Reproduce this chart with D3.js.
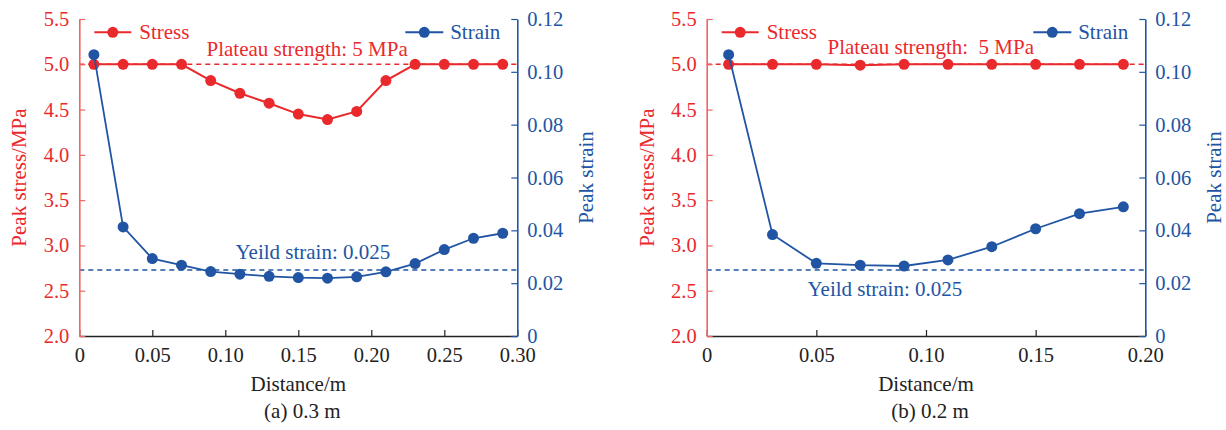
<!DOCTYPE html>
<html>
<head>
<meta charset="utf-8">
<script src="https://cdn.jsdelivr.net/npm/d3@7"></script>
<style>
  html, body { margin: 0; padding: 0; background: #fff; }
  svg { display: block; }
  text { font-family: "Liberation Serif", "Times New Roman", serif; }
</style>
</head>
<body>
<svg id="chart" width="1226" height="430"></svg>
<script>
// Peak stress / peak strain along the distance, two specimen lengths
const distA   = [0.01, 0.03, 0.05, 0.07, 0.09, 0.11, 0.13, 0.15, 0.17, 0.19, 0.21, 0.23, 0.25, 0.27, 0.29];
const stressA = [5.0, 5.0, 5.0, 5.0, 4.82, 4.68, 4.57, 4.45, 4.39, 4.48, 4.82, 5.0, 5.0, 5.0, 5.0];
const strainA = [0.1065, 0.0413, 0.0293, 0.0268, 0.0244, 0.0234, 0.0226, 0.0221, 0.0219, 0.0224, 0.0243, 0.0274, 0.0327, 0.0370, 0.0389];

const distB   = [0.01, 0.03, 0.05, 0.07, 0.09, 0.11, 0.13, 0.15, 0.17, 0.19];
const stressB = [5.0, 5.0, 5.0, 4.99, 5.0, 5.0, 5.0, 5.0, 5.0, 5.0];
const strainB = [0.1065, 0.0384, 0.0275, 0.0268, 0.0265, 0.0288, 0.0338, 0.0406, 0.0463, 0.0489];

const xTicksA = [0, 0.05, 0.10, 0.15, 0.20, 0.25, 0.30];
const xTicksB = [0, 0.05, 0.10, 0.15, 0.20];
const stressTicks = [2.0, 2.5, 3.0, 3.5, 4.0, 4.5, 5.0, 5.5];
const strainTicks = [0, 0.02, 0.04, 0.06, 0.08, 0.10, 0.12];

const plateauStrength = 5;
const yieldStrain = 0.025;

const RED = "#ea292d", RED_AXIS = "#f26464", BLUE = "#2155a4";
const SERIF = "Liberation Serif, Times New Roman, serif";
const FONT = 21, TICK_FONT = 20.5;

const svg = d3.select("#chart");

function label(sel, size, fill) {
  return sel.attr("font-family", SERIF).attr("font-size", size).attr("fill", fill)
    .style("font-family", SERIF).style("font-size", size + "px");
}

function panel(opt) {
  const { left, right, top, bottom } = opt;
  const g = svg.append("g");
  const x = d3.scaleLinear().domain([0, opt.xMax]).range([left, right]);
  const yS = d3.scaleLinear().domain([2.0, 5.5]).range([bottom, top]);
  const yE = d3.scaleLinear().domain([0, 0.12]).range([bottom, top]);

  // reference lines
  g.append("line")
    .attr("x1", left).attr("x2", right)
    .attr("y1", yS(plateauStrength)).attr("y2", yS(plateauStrength))
    .attr("stroke", RED).attr("stroke-width", 1.4).attr("stroke-dasharray", "5,4");
  g.append("line")
    .attr("x1", left).attr("x2", right)
    .attr("y1", yE(yieldStrain)).attr("y2", yE(yieldStrain))
    .attr("stroke", BLUE).attr("stroke-width", 1.4).attr("stroke-dasharray", "5,4");

  // axes (ticks pointing inward)
  const xAxis = d3.axisBottom(x).tickValues(opt.xTicks).tickSizeInner(-6).tickSizeOuter(0).tickPadding(11)
    .tickFormat(d => d === 0 ? "0" : d3.format(".2f")(d));
  const gx = g.append("g").attr("transform", `translate(0,${bottom})`).call(xAxis);
  gx.select(".domain").attr("stroke", "#222").attr("stroke-width", 1.6);
  gx.selectAll(".tick line").attr("stroke", "#222").attr("stroke-width", 1.2);
  label(gx.selectAll(".tick text"), TICK_FONT, "#222");

  const yAxisL = d3.axisLeft(yS).tickValues(stressTicks).tickSizeInner(-6).tickSizeOuter(0).tickPadding(10)
    .tickFormat(d3.format(".1f"));
  const gl = g.append("g").attr("transform", `translate(${left},0)`).call(yAxisL);
  gl.select(".domain").attr("stroke", RED_AXIS).attr("stroke-width", 1.6);
  gl.selectAll(".tick line").attr("stroke", RED_AXIS).attr("stroke-width", 1.2);
  label(gl.selectAll(".tick text"), TICK_FONT, RED);

  const yAxisR = d3.axisRight(yE).tickValues(strainTicks).tickSizeInner(-6).tickSizeOuter(0).tickPadding(10)
    .tickFormat(d => d === 0 ? "0" : d3.format(".2f")(d));
  const gr = g.append("g").attr("transform", `translate(${right},0)`).call(yAxisR);
  gr.select(".domain").attr("stroke", BLUE).attr("stroke-width", 1.6);
  gr.selectAll(".tick line").attr("stroke", BLUE).attr("stroke-width", 1.2);
  label(gr.selectAll(".tick text"), TICK_FONT, BLUE);

  // stress series
  const stressPts = opt.dist.map((d, i) => [d, opt.stress[i]]);
  g.append("path").datum(stressPts)
    .attr("fill", "none").attr("stroke", RED).attr("stroke-width", 2)
    .attr("d", d3.line().x(d => x(d[0])).y(d => yS(d[1])));
  g.selectAll(null).data(stressPts).enter().append("circle")
    .attr("cx", d => x(d[0])).attr("cy", d => yS(d[1])).attr("r", 5.5).attr("fill", RED);

  // strain series
  const strainPts = opt.dist.map((d, i) => [d, opt.strain[i]]);
  g.append("path").datum(strainPts)
    .attr("fill", "none").attr("stroke", BLUE).attr("stroke-width", 1.8)
    .attr("d", d3.line().x(d => x(d[0])).y(d => yE(d[1])));
  g.selectAll(null).data(strainPts).enter().append("circle")
    .attr("cx", d => x(d[0])).attr("cy", d => yE(d[1])).attr("r", 5.5).attr("fill", BLUE);

  // annotations
  label(g.append("text").attr("x", opt.plateauX).attr("y", opt.plateauY), FONT, RED)
    .style("white-space", "pre").text(opt.plateauText);
  label(g.append("text").attr("x", opt.yieldX).attr("y", opt.yieldY), FONT, BLUE)
    .text("Yeild strain: 0.025");

  // legend
  const ly = 32.3;
  g.append("line").attr("x1", left + 15).attr("x2", left + 52).attr("y1", ly).attr("y2", ly)
    .attr("stroke", RED).attr("stroke-width", 2);
  g.append("circle").attr("cx", left + 33.5).attr("cy", ly).attr("r", 5.5).attr("fill", RED);
  label(g.append("text").attr("x", left + 60).attr("y", ly + 6.3), FONT, RED).text("Stress");

  g.append("line").attr("x1", right - 112).attr("x2", right - 74).attr("y1", ly).attr("y2", ly)
    .attr("stroke", BLUE).attr("stroke-width", 2);
  g.append("circle").attr("cx", right - 93).attr("cy", ly).attr("r", 5.5).attr("fill", BLUE);
  label(g.append("text").attr("x", right - 17).attr("y", ly + 6.3), FONT, BLUE)
    .attr("text-anchor", "end").text("Strain");

  // axis titles
  const midY = (top + bottom) / 2;
  label(g.append("text").attr("transform", `translate(${left - 53},${midY}) rotate(-90)`), FONT, RED)
    .attr("text-anchor", "middle").text("Peak stress/MPa");
  label(g.append("text").attr("transform", `translate(${right + 76},${midY}) rotate(-90)`), FONT, BLUE)
    .attr("text-anchor", "middle").text("Peak strain");
  label(g.append("text").attr("x", (left + right) / 2).attr("y", 390.5), FONT, "#222")
    .attr("text-anchor", "middle").text("Distance/m");
  label(g.append("text").attr("x", (left + right) / 2 + 4).attr("y", 418), FONT, "#222")
    .attr("text-anchor", "middle").text(opt.caption);
}

panel({
  left: 79.3, right: 517.3, top: 19, bottom: 336,
  xMax: 0.30, xTicks: xTicksA,
  dist: distA, stress: stressA, strain: strainA,
  plateauText: "Plateau strength: 5 MPa", plateauX: 206.5, plateauY: 55.5,
  yieldX: 235.5, yieldY: 259,
  caption: "(a) 0.3 m"
});

panel({
  left: 706.7, right: 1145.3, top: 19, bottom: 336,
  xMax: 0.20, xTicks: xTicksB,
  dist: distB, stress: stressB, strain: strainB,
  plateauText: "Plateau strength:  5 MPa", plateauX: 827.5, plateauY: 54,
  yieldX: 807.5, yieldY: 296,
  caption: "(b) 0.2 m"
});
</script>
</body>
</html>
